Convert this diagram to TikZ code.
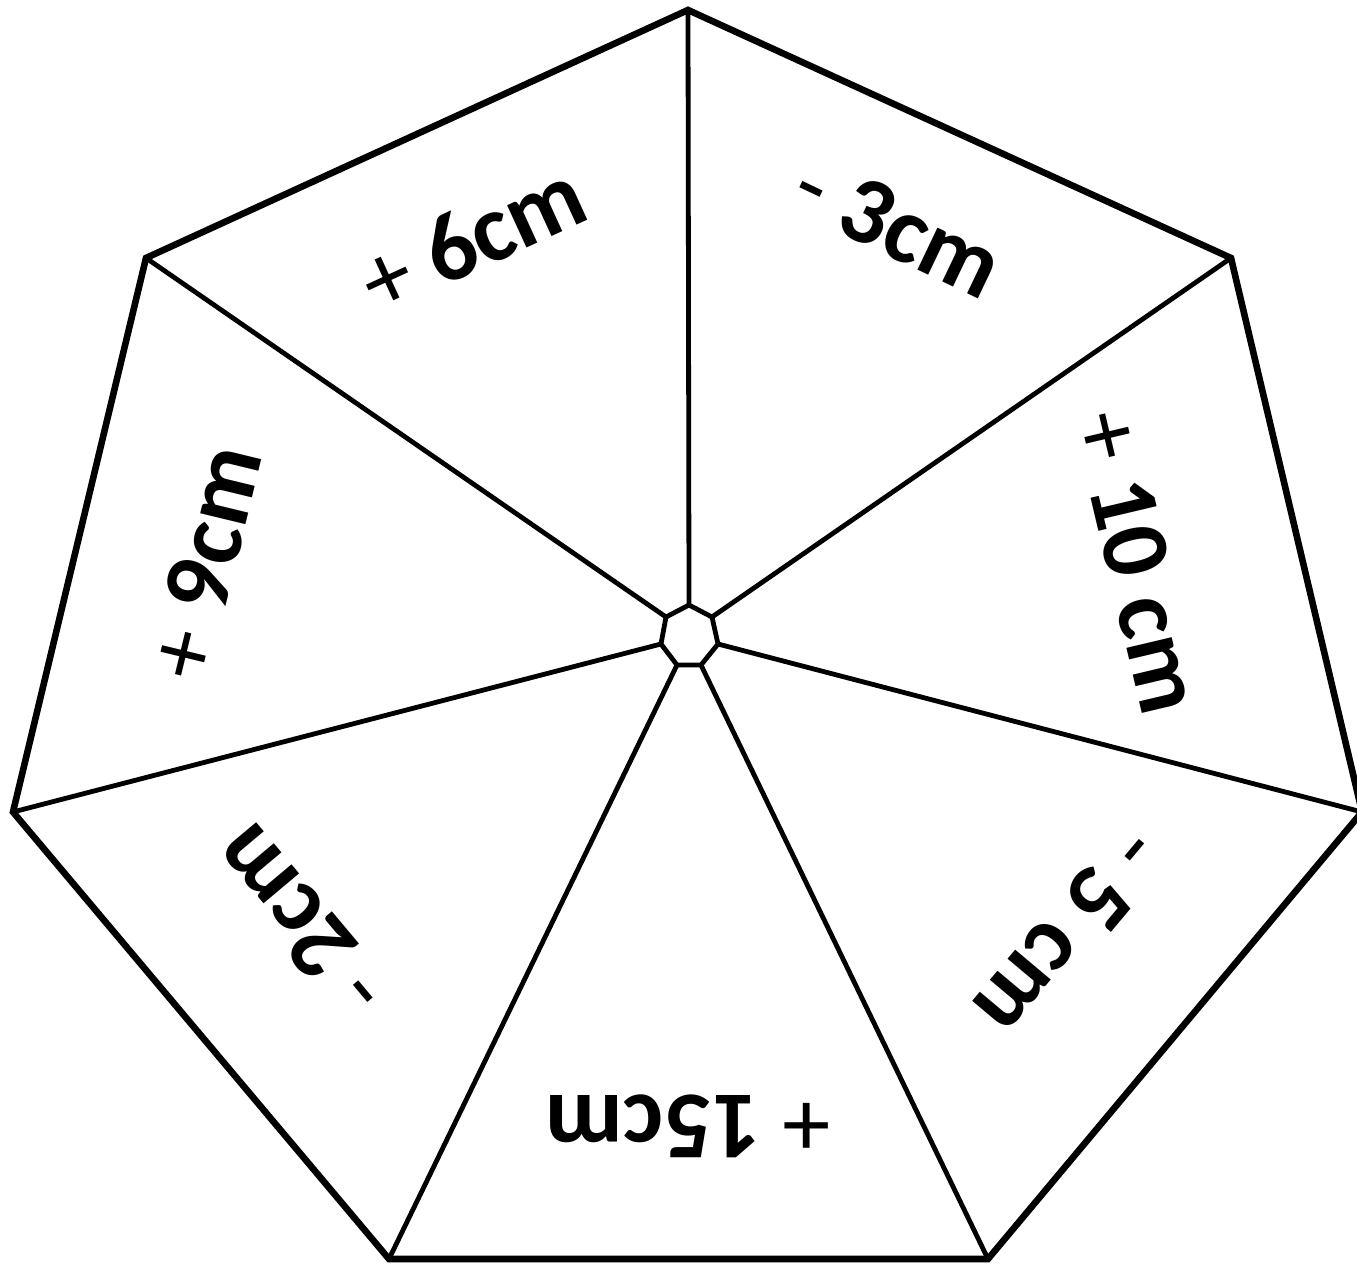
\documentclass[tikz,border=0pt]{standalone}
\usepackage{fontspec}
\setmainfont{Carlito}
\begin{document}
\begin{tikzpicture}[x=0.5pt,y=-0.5pt,
  outer/.style={line width=3.3pt,line join=miter},
  spoke/.style={line width=2.4pt},
  lbl/.style={font=\bfseries\fontsize{48}{58}\selectfont,inner sep=0pt}]
\useasboundingbox (0,0) rectangle (1357,1264);
\clip (0,0) rectangle (1357,1264);
% outer vertices
\coordinate (T) at (688,10);
\coordinate (UR) at (1231,258);
\coordinate (R) at (1362,812);
\coordinate (BR) at (988,1259);
\coordinate (BL) at (389,1259);
\coordinate (L) at (13,812);
\coordinate (UL) at (146,258);
% inner vertices
\coordinate (t) at (689,605);
\coordinate (ur) at (712,617);
\coordinate (r) at (718,644);
\coordinate (br) at (701,665);
\coordinate (bl) at (677,665);
\coordinate (l) at (661,644);
\coordinate (ul) at (666,617);
\draw[outer] (T) -- (UR) -- (R) -- (BR) -- (BL) -- (L) -- (UL) -- cycle;
\draw[spoke,line join=miter] (t) -- (ur) -- (r) -- (br) -- (bl) -- (l) -- (ul) -- cycle;
\draw[spoke] (t) -- (T);
\draw[spoke] (ur) -- (UR);
\draw[spoke] (r) -- (R);
\draw[spoke] (br) -- (BR);
\draw[spoke] (bl) -- (BL);
\draw[spoke] (l) -- (L);
\draw[spoke] (ul) -- (UL);
% labels
\node[lbl,rotate=24.6] (a) at (472,238) {{\mdseries +} 6cm};
\node[lbl,rotate=-25.5] (b) at (898,226) {{\mdseries -} 3cm};
\node[lbl,rotate=-76.7] (c) at (1138,562) {{\mdseries +} 10 cm};
\node[lbl,rotate=230] (d) at (1070,933) {{\mdseries -} 5 cm};
\node[lbl,rotate=180] (e) at (688,1126) {{\mdseries +} 15cm};
\node[lbl,rotate=130] (f) at (300,922) {{\mdseries -} 2cm};
\node[lbl,rotate=76.4] (g) at (205,562) {{\mdseries +} 9cm};
\end{tikzpicture}
\end{document}
